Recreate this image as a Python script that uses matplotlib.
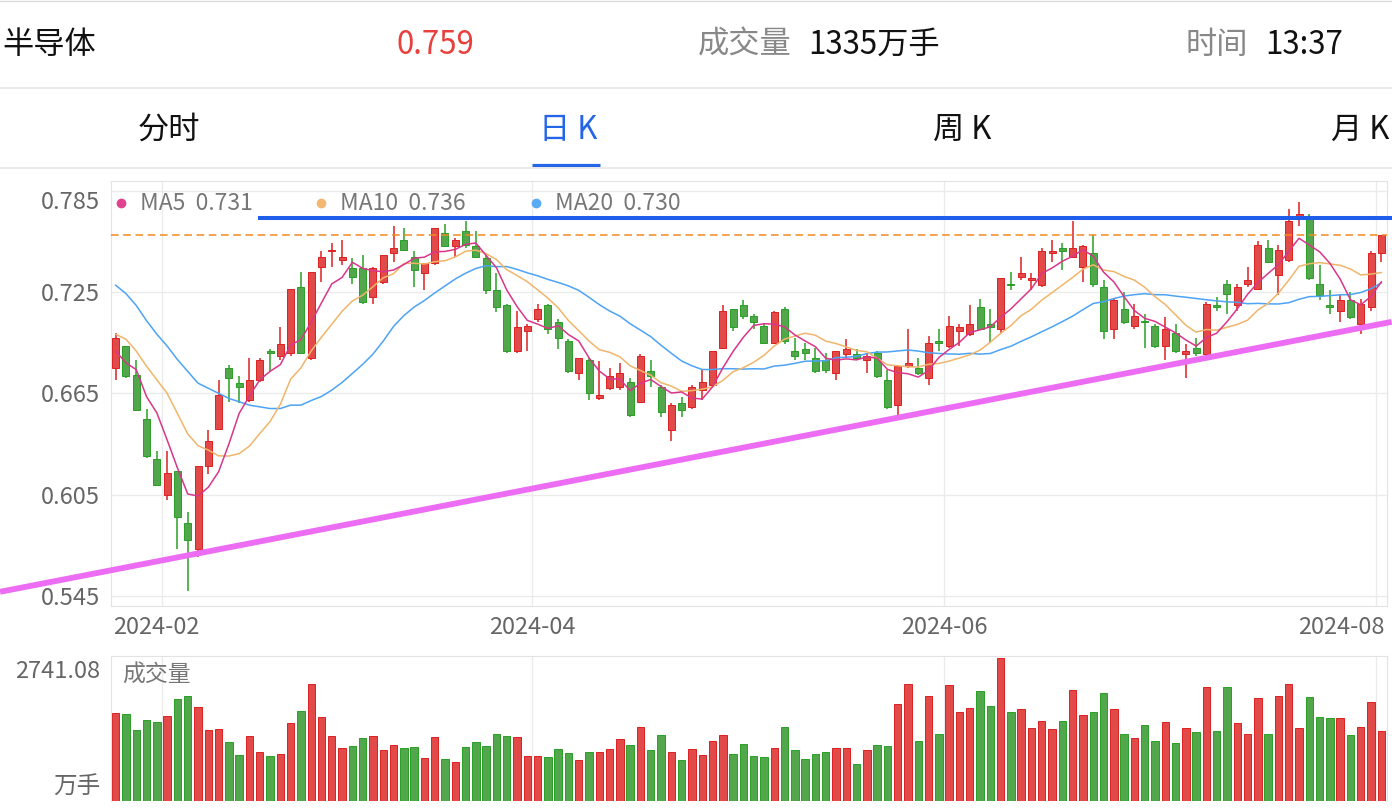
import numpy as np
import pandas as pd
import matplotlib
matplotlib.use("Agg")
import matplotlib.pyplot as plt
from matplotlib.lines import Line2D
from matplotlib.transforms import blended_transform_factory

plt.rcParams['font.family'] = ['Noto Sans CJK SC', 'DejaVu Sans']

# 半导体 daily K, 2024-01-25 .. 2024-08-01 (124 trading days)
opens = [0.680, 0.693, 0.676, 0.650, 0.626, 0.605, 0.619, 0.588, 0.573, 0.622,
         0.644, 0.680, 0.671, 0.661, 0.673, 0.690, 0.687, 0.689, 0.728, 0.686,
         0.740, 0.749, 0.744, 0.739, 0.739, 0.722, 0.731, 0.748, 0.756, 0.746,
         0.736, 0.742, 0.760, 0.752, 0.761, 0.752, 0.745, 0.726, 0.717, 0.690,
         0.702, 0.709, 0.717, 0.707, 0.696, 0.677, 0.685, 0.662, 0.668, 0.669,
         0.672, 0.660, 0.678, 0.669, 0.643, 0.659, 0.657, 0.667, 0.670, 0.692,
         0.715, 0.717, 0.711, 0.705, 0.695, 0.715, 0.690, 0.691, 0.686, 0.685,
         0.677, 0.688, 0.688, 0.685, 0.689, 0.673, 0.658, 0.681, 0.680, 0.674,
         0.696, 0.693, 0.702, 0.700, 0.716, 0.706, 0.703, 0.730, 0.734, 0.732,
         0.729, 0.748, 0.751, 0.746, 0.740, 0.748, 0.728, 0.703, 0.715, 0.705,
         0.708, 0.705, 0.693, 0.701, 0.688, 0.692, 0.688, 0.717, 0.730, 0.717,
         0.730, 0.727, 0.751, 0.735, 0.744, 0.769, 0.770, 0.730, 0.717, 0.714,
         0.720, 0.706, 0.716, 0.748]
highs = [0.701, 0.693, 0.685, 0.656, 0.631, 0.631, 0.619, 0.595, 0.622, 0.643,
         0.673, 0.682, 0.675, 0.686, 0.686, 0.691, 0.704, 0.727, 0.737, 0.737,
         0.749, 0.754, 0.756, 0.745, 0.747, 0.740, 0.747, 0.764, 0.763, 0.749,
         0.742, 0.763, 0.765, 0.757, 0.767, 0.761, 0.747, 0.736, 0.718, 0.714,
         0.706, 0.718, 0.718, 0.709, 0.697, 0.686, 0.686, 0.684, 0.680, 0.683,
         0.674, 0.688, 0.685, 0.670, 0.659, 0.663, 0.670, 0.679, 0.690, 0.717,
         0.715, 0.720, 0.712, 0.706, 0.714, 0.716, 0.698, 0.695, 0.692, 0.689,
         0.690, 0.697, 0.691, 0.688, 0.690, 0.679, 0.681, 0.703, 0.686, 0.699,
         0.703, 0.711, 0.706, 0.717, 0.721, 0.715, 0.733, 0.737, 0.746, 0.736,
         0.751, 0.756, 0.754, 0.767, 0.753, 0.759, 0.732, 0.721, 0.725, 0.718,
         0.712, 0.706, 0.710, 0.706, 0.694, 0.698, 0.719, 0.722, 0.732, 0.730,
         0.740, 0.755, 0.756, 0.753, 0.774, 0.778, 0.771, 0.741, 0.726, 0.723,
         0.725, 0.721, 0.749, 0.759]
lows = [0.673, 0.674, 0.655, 0.627, 0.610, 0.602, 0.573, 0.548, 0.568, 0.617,
        0.643, 0.660, 0.659, 0.660, 0.672, 0.678, 0.685, 0.687, 0.689, 0.685,
        0.731, 0.740, 0.741, 0.730, 0.718, 0.718, 0.730, 0.743, 0.749, 0.728,
        0.726, 0.741, 0.752, 0.746, 0.751, 0.745, 0.724, 0.713, 0.689, 0.689,
        0.690, 0.707, 0.700, 0.691, 0.677, 0.673, 0.661, 0.661, 0.667, 0.667,
        0.651, 0.659, 0.669, 0.651, 0.637, 0.651, 0.656, 0.661, 0.669, 0.691,
        0.702, 0.709, 0.703, 0.694, 0.694, 0.694, 0.685, 0.685, 0.677, 0.677,
        0.673, 0.686, 0.685, 0.677, 0.674, 0.656, 0.652, 0.680, 0.676, 0.670,
        0.690, 0.692, 0.693, 0.699, 0.703, 0.695, 0.701, 0.726, 0.732, 0.726,
        0.728, 0.743, 0.738, 0.745, 0.731, 0.728, 0.697, 0.697, 0.706, 0.703,
        0.692, 0.692, 0.685, 0.689, 0.674, 0.687, 0.687, 0.714, 0.712, 0.714,
        0.728, 0.726, 0.742, 0.723, 0.743, 0.764, 0.732, 0.720, 0.712, 0.707,
        0.709, 0.700, 0.714, 0.743]
closes = [0.698, 0.675, 0.655, 0.628, 0.611, 0.618, 0.592, 0.578, 0.622, 0.637,
          0.664, 0.674, 0.669, 0.673, 0.685, 0.689, 0.694, 0.727, 0.689, 0.737,
          0.746, 0.750, 0.746, 0.734, 0.719, 0.739, 0.747, 0.751, 0.750, 0.738,
          0.742, 0.763, 0.752, 0.756, 0.753, 0.746, 0.726, 0.716, 0.690, 0.704,
          0.705, 0.715, 0.703, 0.698, 0.678, 0.686, 0.665, 0.664, 0.675, 0.677,
          0.652, 0.687, 0.675, 0.654, 0.658, 0.655, 0.669, 0.672, 0.690, 0.714,
          0.704, 0.711, 0.707, 0.695, 0.713, 0.696, 0.687, 0.689, 0.678, 0.679,
          0.690, 0.691, 0.686, 0.687, 0.675, 0.657, 0.681, 0.683, 0.677, 0.695,
          0.695, 0.705, 0.704, 0.706, 0.703, 0.704, 0.733, 0.729, 0.736, 0.733,
          0.749, 0.749, 0.749, 0.751, 0.752, 0.730, 0.702, 0.720, 0.707, 0.711,
          0.707, 0.693, 0.703, 0.690, 0.690, 0.689, 0.718, 0.716, 0.724, 0.728,
          0.732, 0.753, 0.743, 0.750, 0.767, 0.771, 0.733, 0.723, 0.716, 0.720,
          0.710, 0.718, 0.748, 0.759]
# 成交量 (万手)
volumes = [1678, 1665, 1357, 1550, 1511, 1626, 1966, 2023, 1812, 1351,
           1377, 1133, 884, 1236, 935, 852, 896, 1486, 1722, 2254,
           1601, 1236, 1018, 1050, 1197, 1236, 973, 1069, 1012, 1037,
           820, 1217, 807, 743, 1025, 1133, 1044, 1293, 1242, 1223,
           858, 858, 832, 993, 916, 781, 935, 941, 993, 1191,
           1076, 1415, 973, 1255, 928, 781, 993, 871, 1153, 1255,
           890, 1082, 858, 832, 1012, 1422, 967, 800, 890, 928,
           1005, 1018, 698, 973, 1069, 1050, 1870, 2254, 1153, 2017,
           1274, 2235, 1703, 1786, 2113, 1825, 2741.08, 1703, 1767, 1390,
           1530, 1370, 1524, 2139, 1658, 1710, 2081, 1774, 1293, 1210,
           1447, 1146, 1505, 1114, 1390, 1313, 2190, 1332, 2190, 1498,
           1293, 1979, 1287, 2017, 2241, 1402, 2004, 1620, 1594, 1582,
           1268, 1415, 1902, 1335]

# moving-average values at the start of the window (they use earlier days)
ma5_head = [0.690, 0.683, 0.679, 0.663]
ma10_head = [0.700, 0.697, 0.690, 0.681, 0.673, 0.665, 0.653, 0.641, 0.634]
ma20_head = [0.729, 0.724, 0.717, 0.708, 0.700, 0.693, 0.685, 0.678, 0.671, 0.668,
             0.665, 0.662, 0.660, 0.658, 0.657, 0.656, 0.656, 0.658, 0.658]

price_ticks = [0.545, 0.605, 0.665, 0.725, 0.785]
month_labels = ["2024-02", "2024-04", "2024-06", "2024-08"]
month_start_idx = [5, 41, 81, 123]

# user-drawn lines
resist_level = 0.769
resist_start = 13.8
trend_x = [-11.24, 124.0]
trend_y = [0.5475, 0.7073]

W, H = 1392, 810
RED_F, RED_E = '#E24A4A', '#DD2020'
GRN_F, GRN_E = '#52A64C', '#28A024'

o = np.array(opens); h = np.array(highs); l = np.array(lows); c = np.array(closes)
v = np.array(volumes)
n = len(c)
x = np.arange(n)
up = c >= o

s = pd.Series(c)
ma5 = s.rolling(5).mean().to_numpy(); ma5[:4] = ma5_head
ma10 = s.rolling(10).mean().to_numpy(); ma10[:9] = ma10_head
ma20 = s.rolling(20).mean().to_numpy(); ma20[:19] = ma20_head

fig = plt.figure(figsize=(W / 100, H / 100), dpi=100)

def fx(px):
    return px / W

def fy(py):
    return 1 - py / H

# ---- header ----
fig.add_artist(Line2D([0, 1], [fy(0.5), fy(0.5)], color='#DDDDDD', lw=1))
fig.text(fx(2), fy(45), "半导体", fontsize=22.5, color='#111111', ha='left', va='center')
fig.text(fx(435), fy(45), f"{c[-1]:.3f}", fontsize=22.5, color='#E8403C', ha='center', va='center')
fig.text(fx(698), fy(45), "成交量", fontsize=22.5, color='#888888', ha='left', va='center')
fig.text(fx(808), fy(45), f"{v[-1]:.0f}万手", fontsize=22.5, color='#111111', ha='left', va='center')
fig.text(fx(1185), fy(45), "时间", fontsize=22.5, color='#888888', ha='left', va='center')
fig.text(fx(1265), fy(45), "13:37", fontsize=22.5, color='#111111', ha='left', va='center')
fig.add_artist(Line2D([0, 1], [fy(88), fy(88)], color='#E6E6E6', lw=1.2))

for label, cx, col in [("分时", 169, '#111111'), ("日 K", 568, '#2566E8'),
                       ("周 K", 962, '#111111'), ("月 K", 1360, '#111111')]:
    fig.text(fx(cx), fy(130), label, fontsize=22.5, color=col, ha='center', va='center')
fig.add_artist(Line2D([fx(532), fx(600)], [fy(165), fy(165)], color='#2566E8', lw=2.3,
                      solid_capstyle='butt'))
fig.add_artist(Line2D([0, 1], [fy(168), fy(168)], color='#E6E6E6', lw=1.2))

# ---- price panel ----
ax = fig.add_axes([fx(111), fy(606), 1276 / W, 425 / H])
ax.set_xlim(-0.457, 123.55)
ax.set_ylim(0.5391, 0.7907)

grid_x = [i - 0.5 for i in month_start_idx]
for gx in grid_x:
    ax.axvline(gx, color='#EBEBEB', lw=1, zorder=0)
for gy in price_ticks:
    ax.axhline(gy, color='#EBEBEB', lw=1, zorder=0)

fills = np.where(up, RED_F, GRN_F)
edges = np.where(up, RED_E, GRN_E)
ax.vlines(x, l, h, colors=edges, lw=1.1, zorder=2)
body_lo = np.minimum(o, c)
body_h = np.maximum(np.abs(c - o), 0.0009)
ax.bar(x, body_h, bottom=body_lo, width=0.68, color=fills, edgecolor=edges, lw=0.7, zorder=3)

ax.plot(x, ma20, color='#4DA3F5', lw=1.1, zorder=4)
ax.plot(x, ma10, color='#F0B56B', lw=1.1, zorder=4)
ax.plot(x, ma5, color='#D8368A', lw=1.1, zorder=4)

ax.axhline(c[-1], color='#F08A22', lw=1.1, ls=(0, (5, 3)), zorder=5)
ax.plot([resist_start, trend_x[1]], [resist_level, resist_level], color='#1E5EEB', lw=2.9,
        solid_capstyle='butt', clip_on=False, zorder=6)
ax.plot(trend_x, trend_y, color='#EC6CF3', lw=4.2, solid_capstyle='butt', clip_on=False, zorder=6)

for sp in ax.spines.values():
    sp.set_color('#E3E3E3')
ax.set_yticks(price_ticks, labels=[f"{t:.3f}" for t in price_ticks])
ax.tick_params(axis='y', length=0, pad=8, labelsize=17, labelcolor='#666666')
ax.yaxis.get_major_ticks()[-1].label1.set_verticalalignment('top')
ax.set_xticks([])

tr = blended_transform_factory(ax.transData, ax.transAxes)
xl = ax.get_xlim()
lab_y = -21 / 425
for k, (lab, gx) in enumerate(zip(month_labels, grid_x)):
    if k == 0:
        ax.text(xl[0] + 0.2, lab_y, lab, transform=tr, ha='left', va='center', fontsize=17, color='#666666')
    elif k == len(month_labels) - 1:
        ax.text(xl[1] - 0.2, lab_y, lab, transform=tr, ha='right', va='center', fontsize=17, color='#666666')
    else:
        ax.text(gx, lab_y, lab, transform=tr, ha='center', va='center', fontsize=17, color='#666666')

# legend
for name, val, dot_x, col in [("MA5", ma5[-1], 121, '#E0428E'),
                              ("MA10", ma10[-1], 321, '#F2B872'),
                              ("MA20", ma20[-1], 536, '#5AABF7')]:
    fig.add_artist(Line2D([fx(dot_x)], [fy(203)], marker='o', ms=6, color=col, mec=col, lw=0))
    fig.text(fx(dot_x + 19), fy(203), f"{name}  {val:.3f}", fontsize=16.5, color='#777777',
             ha='left', va='center')

# ---- volume panel ----
axv = fig.add_axes([fx(111), fy(800.7), 1276 / W, 145 / H])
axv.set_xlim(ax.get_xlim())
axv.set_ylim(0, 2790)
for gx in grid_x:
    axv.axvline(gx, color='#EBEBEB', lw=1, zorder=0)
axv.bar(x, v, width=0.72, color=fills, edgecolor=edges, lw=0.7, zorder=2)
for side in ['top', 'left', 'right']:
    axv.spines[side].set_color('#E3E3E3')
axv.spines['bottom'].set_visible(False)
axv.set_xticks([])
axv.set_yticks([])
fig.text(fx(122), fy(675), "成交量", fontsize=16.5, color='#777777', ha='left', va='center')
fig.text(fx(100), fy(671), f"{v.max():.2f}", fontsize=17, color='#666666', ha='right', va='center')
fig.text(fx(100), fy(787), "万手", fontsize=17, color='#666666', ha='right', va='center')

fig.savefig("out.png", dpi=100)
